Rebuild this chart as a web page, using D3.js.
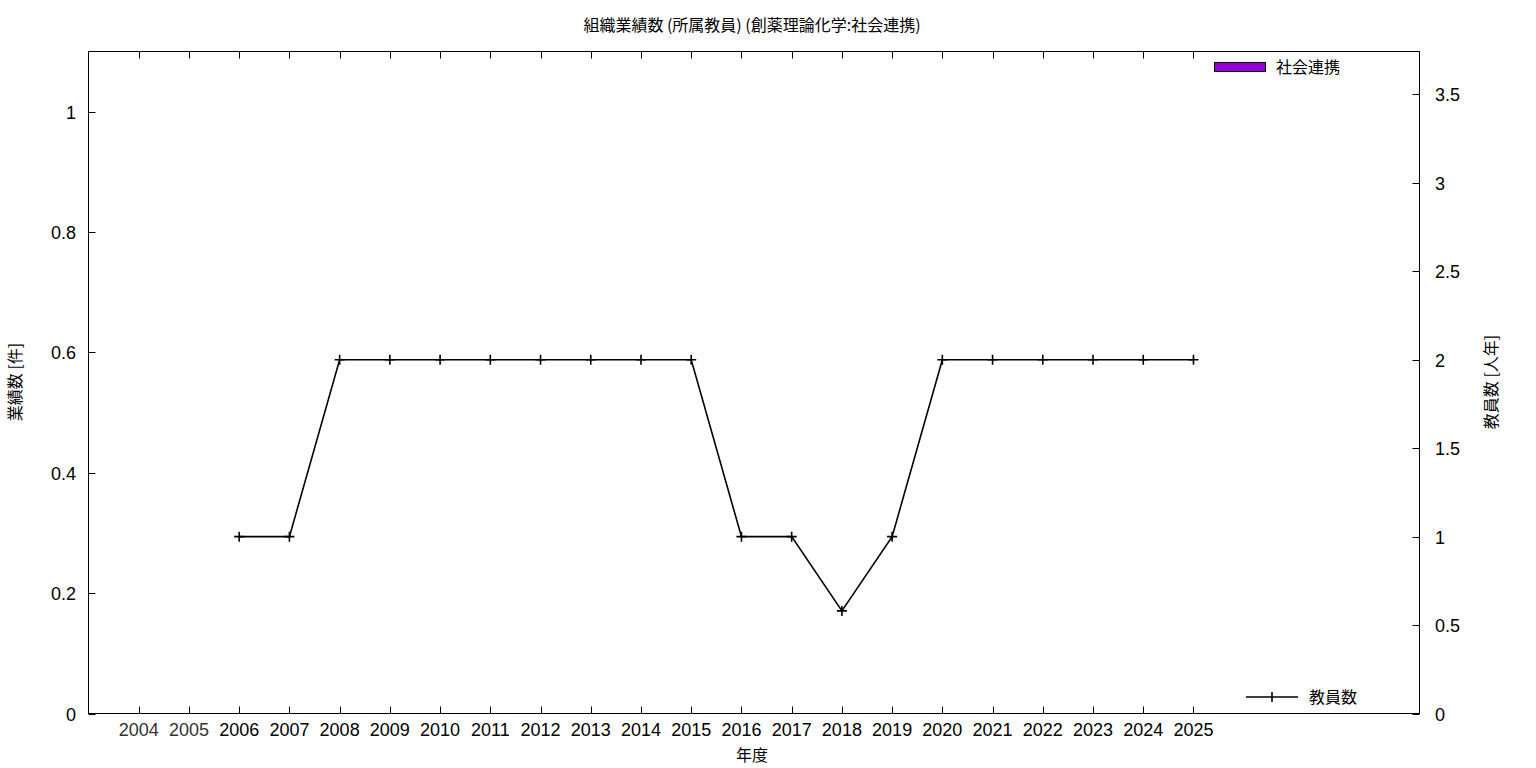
<!DOCTYPE html>
<html><head><meta charset="utf-8">
<script src="https://cdn.jsdelivr.net/npm/d3@7"></script>
<style>body{margin:0;background:#fff}text{font-family:"Noto Sans CJK JP","Noto Sans",sans-serif}.num{font-family:"Liberation Sans",Arial,sans-serif}</style>
</head><body><svg id="c" width="1536" height="768"></svg>
<script>
const years = [2004,2005,2006,2007,2008,2009,2010,2011,2012,2013,2014,2015,2016,2017,2018,2019,2020,2021,2022,2023,2024,2025];
const staffYears = [2006,2007,2008,2009,2010,2011,2012,2013,2014,2015,2016,2017,2018,2019,2020,2021,2022,2023,2024,2025];
const staffCount = [1,1,2,2,2,2,2,2,2,2,1,1,0.58,1,2,2,2,2,2,2];
const leftTicks = [0,0.2,0.4,0.6,0.8,1];
const rightTicks = [0,0.5,1,1.5,2,2.5,3,3.5];
const title = "組織業績数 (所属教員) (創薬理論化学:社会連携)";

const svg = d3.select("#c");
const L=88.5, R=1419.5, T=51.5, B=713.5;
const x = d3.scaleLinear().domain([2003,2029.5]).range([L,R]);
const yL = d3.scaleLinear().domain([0,1.1]).range([B,T]);
const yR = d3.scaleLinear().domain([0,3.743]).range([B,T]);
const fs = 18;

svg.append("rect").attr("x",L).attr("y",T).attr("width",R-L).attr("height",B-T)
  .attr("fill","none").attr("stroke","#000").attr("stroke-width",1);

years.forEach(v=>{
  const xx = Math.round(x(v))+0.5;
  svg.append("line").attr("x1",xx).attr("x2",xx).attr("y1",B).attr("y2",B-7).attr("stroke","#000");
  svg.append("line").attr("x1",xx).attr("x2",xx).attr("y1",T).attr("y2",T+7).attr("stroke","#000");
  svg.append("text").attr("class","num").attr("x",x(v)).attr("y",736).attr("text-anchor","middle")
    .attr("font-size",fs).attr("fill", v<2006?"#333":"#000").text(v);
});
leftTicks.forEach(v=>{
  const yy=Math.round(yL(v))+0.5;
  svg.append("line").attr("x1",L).attr("x2",L+7).attr("y1",yy).attr("y2",yy).attr("stroke","#000");
  svg.append("text").attr("class","num").attr("x",76).attr("y",yy+6.5).attr("text-anchor","end").attr("font-size",fs).text(v);
});
rightTicks.forEach(v=>{
  const yy=Math.round(yR(v))+0.5;
  svg.append("line").attr("x1",R).attr("x2",R-7).attr("y1",yy).attr("y2",yy).attr("stroke","#000");
  svg.append("text").attr("class","num").attr("x",1435).attr("y",yy+6.5).attr("text-anchor","start").attr("font-size",fs).text(v);
});

svg.append("text").attr("x",752).attr("y",31).attr("text-anchor","middle").attr("font-size",16).text(title);
svg.append("text").attr("x",752).attr("y",761).attr("text-anchor","middle").attr("font-size",16).text("年度");
svg.append("text").attr("transform","translate(21,382) rotate(-90)").attr("text-anchor","middle").attr("font-size",16).text("業績数 [件]");
svg.append("text").attr("transform","translate(1497,382) rotate(-90)").attr("text-anchor","middle").attr("font-size",16).text("教員数 [人年]");

const pts = staffYears.map((yv,i)=>[x(yv),yR(staffCount[i])]);
svg.append("path").attr("d",d3.line()(pts)).attr("fill","none").attr("stroke","#000").attr("stroke-width",1.6);
pts.forEach(p=>{
  svg.append("path").attr("d",`M${p[0]-5},${p[1]}H${p[0]+5}M${p[0]},${p[1]-5}V${p[1]+5}`).attr("stroke","#000").attr("stroke-width",1.6);
});

svg.append("rect").attr("x",1214.5).attr("y",62.5).attr("width",51).attr("height",9).attr("fill","#9400d3").attr("stroke","#000");
svg.append("text").attr("x",1276).attr("y",73).attr("font-size",16).text("社会連携");
svg.append("line").attr("x1",1246).attr("x2",1298).attr("y1",697).attr("y2",697).attr("stroke","#000").attr("stroke-width",1.6);
svg.append("path").attr("d","M1272,692V702").attr("stroke","#000").attr("stroke-width",1.6);
svg.append("text").attr("x",1309).attr("y",703).attr("font-size",16).text("教員数");
</script></body></html>
